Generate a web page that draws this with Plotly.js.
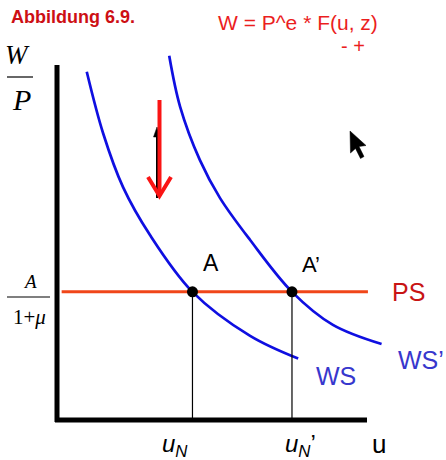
<!DOCTYPE html>
<html>
<head>
<meta charset="utf-8">
<script src="https://cdn.plot.ly/plotly-3.0.1.min.js"></script>
<style>html,body{margin:0;padding:0;background:#fff;}#chart{width:446px;height:460px;}</style>
</head>
<body>
<div id="chart"></div>
<script>
// ---- data (abstract units: u on x, W/P on y) ----
const wsU  = [0.96, 1.49, 2.13, 3.00, 4.37, 6.23, 7.78];
const wsW  = [9.81, 8.07, 6.56, 5.21, 3.61, 2.37, 1.73];
const ws2U = [3.62, 3.97, 4.61, 5.26, 6.23, 7.58, 8.90, 10.47];
const ws2W = [10.26, 8.83, 7.32, 6.25, 5.07, 3.61, 2.68, 2.14];
const psU  = [0.15, 10.03];
const psW  = [3.61, 3.61];
const eqU  = [4.37, 7.58];
const eqW  = [3.61, 3.61];
const eqLabels = ['A', 'A\u2019'];
const curveLabels = ['WS', 'WS\u2019', 'PS'];
const xTickLabels = ['<i>u<sub>N</sub></i>', '<i>u<sub>N</sub></i>\u2019', 'u'];

// ---- geometry helpers ----
const W = 446, H = 460, X0 = 57, Y0 = 420, SX = 31, SY = 35.5;
const pu = px => (px - X0) / SX;
const pw = py => (Y0 - py) / SY;

const blue = 'rgb(15,15,225)';
const traces = [
  {x: psU, y: psW, mode: 'lines', line: {color: 'rgb(240,70,25)', width: 3}},
  {x: wsU, y: wsW, mode: 'lines', line: {color: blue, width: 2.7, shape: 'spline', smoothing: 1}},
  {x: ws2U, y: ws2W, mode: 'lines', line: {color: blue, width: 2.7, shape: 'spline', smoothing: 1}},
  {x: eqU, y: eqW, mode: 'markers', marker: {color: 'black', size: 11}}
];

const shapes = [];
// drop lines from equilibria
eqU.forEach((u, i) => shapes.push({type: 'line', xref: 'x', yref: 'y', x0: u, x1: u, y0: 0, y1: eqW[i], line: {color: 'black', width: 1.2}}));
// axes
shapes.push({type: 'line', xref: 'x', yref: 'y', x0: 0, x1: 0, y0: pw(422), y1: 10, line: {color: 'black', width: 5}});
shapes.push({type: 'line', xref: 'x', yref: 'y', x0: pu(55), x1: 10, y0: 0, y1: 0, line: {color: 'black', width: 5}});
// fraction bars
shapes.push({type: 'line', xref: 'x', yref: 'y', x0: pu(7), x1: pu(33), y0: pw(77), y1: pw(77), line: {color: 'black', width: 1.2}});
shapes.push({type: 'line', xref: 'x', yref: 'y', x0: pu(7), x1: pu(50), y0: pw(297), y1: pw(297), line: {color: 'black', width: 1.2}});
// black arrow (up), partly hidden
shapes.push({type: 'line', xref: 'x', yref: 'y', x0: pu(157), x1: pu(157), y0: pw(198), y1: pw(132), line: {color: 'black', width: 2}});
shapes.push({type: 'path', xref: 'x', yref: 'y',
  path: `M${pu(153.5)},${pw(137)} L${pu(157)},${pw(127)} L${pu(160)},${pw(137)} Z`, fillcolor: 'black', line: {color: 'black', width: 0.5}});
// red arrow (down)
shapes.push({type: 'line', xref: 'x', yref: 'y', x0: pu(159.5), x1: pu(159.5), y0: pw(100), y1: pw(196), line: {color: 'rgb(250,20,20)', width: 4}});
shapes.push({type: 'path', xref: 'x', yref: 'y',
  path: `M${pu(148)},${pw(177)} L${pu(159.5)},${pw(196)} L${pu(171)},${pw(177)}`, line: {color: 'rgb(250,20,20)', width: 4}});
// cursor
shapes.push({type: 'path', xref: 'x', yref: 'y',
  path: `M${pu(350)},${pw(131)} L${pu(350.5)},${pw(153)} L${pu(355.5)},${pw(148.5)} L${pu(360.5)},${pw(158.5)} L${pu(364)},${pw(156.5)} L${pu(359)},${pw(146.5)} L${pu(366)},${pw(145.5)} Z`,
  fillcolor: 'black', line: {color: 'black', width: 0.5}});

const arial = 'Liberation Sans, Arial, sans-serif';
const serif = 'Liberation Serif, Times New Roman, serif';
const ann = (px, py, text, size, color, opts = {}) => Object.assign({
  xref: 'x', yref: 'y', x: pu(px), y: pw(py), text, showarrow: false,
  xanchor: 'center', yanchor: 'middle', font: {family: arial, size, color}
}, opts);
const sann = (px, py, text, size) => ann(px, py, text, size, 'black', {font: {family: serif, size, color: 'black'}});

const annotations = [
  ann(9, 17, '<b>Abbildung 6.9.</b>', 18, 'rgb(205,15,20)', {xanchor: 'left'}),
  ann(216, 22, 'W = P^e * F(u, z)', 21, 'rgb(235,30,30)', {xanchor: 'left'}),
  ann(353, 46, '-\u00a0+', 20, 'rgb(235,30,30)'),
  sann(17, 55, '<i>W</i>', 27),
  sann(21, 99, '<i>P</i>', 30),
  sann(30, 281, '<i>A</i>', 19),
  sann(29, 317, '1+<i>\u03bc</i>', 21),
  {xref: 'x', yref: 'y', x: eqU[0], y: eqW[0], text: eqLabels[0], showarrow: false, xshift: 19, yshift: 29, font: {family: arial, size: 23, color: 'black'}},
  {xref: 'x', yref: 'y', x: eqU[1], y: eqW[1], text: eqLabels[1], showarrow: false, xshift: 19, yshift: 27, font: {family: arial, size: 22, color: 'black'}},
  ann(336, 376, curveLabels[0], 25, 'rgb(55,55,205)'),
  ann(421, 360, curveLabels[1], 25, 'rgb(55,55,205)'),
  ann(408, 292, curveLabels[2], 25, 'rgb(200,20,20)'),
  ann(175, 445, xTickLabels[0], 24, 'black'),
  ann(300, 445, xTickLabels[1], 24, 'black'),
  ann(379, 444, xTickLabels[2], 26, 'black')
];

const layout = {
  width: W, height: H, margin: {l: 0, r: 0, t: 0, b: 0},
  paper_bgcolor: 'white', plot_bgcolor: 'white', showlegend: false,
  xaxis: {range: [pu(0), pu(W)], visible: false, fixedrange: true},
  yaxis: {range: [pw(H), pw(0)], visible: false, fixedrange: true},
  shapes, annotations
};
Plotly.newPlot('chart', traces, layout, {staticPlot: true, displayModeBar: false});
</script>
</body>
</html>
